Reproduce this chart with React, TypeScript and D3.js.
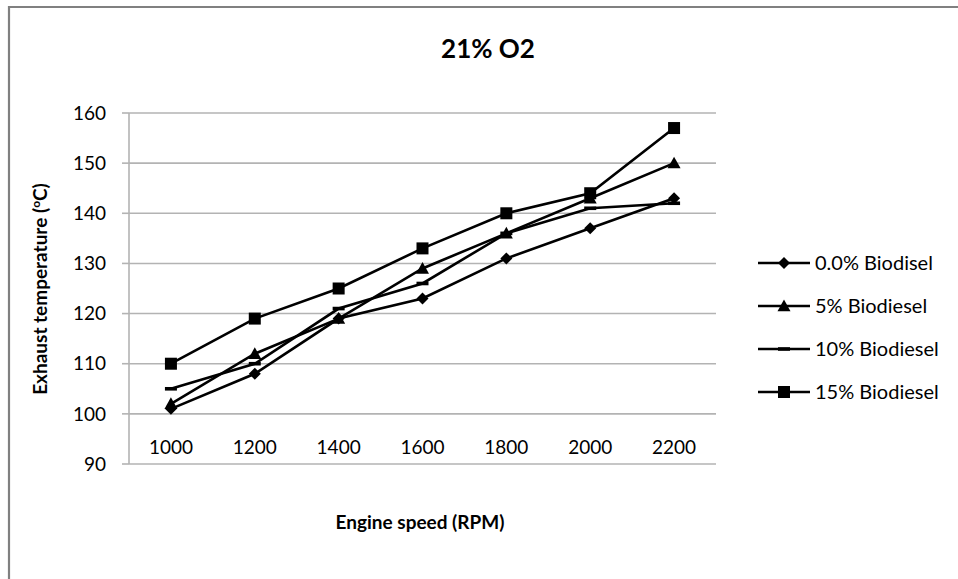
import React from "react";
import * as d3 from "d3";

const rpm = ["1000", "1200", "1400", "1600", "1800", "2000", "2200"];
const yTicks = [90, 100, 110, 120, 130, 140, 150, 160];
const s0 = [101, 108, 119, 123, 131, 137, 143];
const s5 = [102, 112, 119, 129, 136, 143, 150];
const s10 = [105, 110, 121, 126, 136, 141, 142];
const s15 = [110, 119, 125, 133, 140, 144, 157];
const seriesNames = ["0.0% Biodisel", "5% Biodiesel", "10% Biodiesel", "15% Biodiesel"];
const seriesMarkers = ["diamond", "triangle", "dash", "square"];
const seriesValues = [s0, s5, s10, s15];

const W = 958;
const H = 579;
const left = 129;
const right = 716;
const top = 113;
const bottom = 464;
const FONT = "Lato, 'Open Sans', sans-serif";

function Marker({ kind, x, y }: { kind: string; x: number; y: number }) {
  if (kind === "diamond") {
    const r = 6;
    return <path d={`M${x},${y - r}L${x + r},${y}L${x},${y + r}L${x - r},${y}Z`} fill="#000" />;
  }
  if (kind === "triangle") {
    const r = 6.5;
    return <path d={`M${x},${y - r}L${x + r},${y + r * 0.8}L${x - r},${y + r * 0.8}Z`} fill="#000" />;
  }
  if (kind === "square") {
    const r = 6;
    return <rect x={x - r} y={y - r} width={2 * r} height={2 * r} fill="#000" />;
  }
  return <rect x={x - 6} y={y - 1.8} width={12} height={3.6} fill="#000" />;
}

export default function App() {
  const x = d3.scaleBand<string>().domain(rpm).range([left, right]);
  const y = d3.scaleLinear().domain([90, 160]).range([bottom, top]);
  const cx = (c: string) => (x(c) as number) + x.bandwidth() / 2;
  const line = d3
    .line<number>()
    .x((_, i) => cx(rpm[i]))
    .y((v) => y(v));

  const legendY = [263, 306, 349, 392];

  return (
    <svg
      width={W}
      height={H}
      style={{ position: "absolute", left: 0, top: 0, background: "#fff" }}
      fontFamily={FONT}
    >
      <rect width={W} height={H} fill="#fff" />
      <path d={`M9,${H}V7H${W}`} fill="none" stroke="#808080" strokeWidth={2.2} />

      <text x={488} y={58} textAnchor="middle" fontSize={26} fontWeight="bold" fill="#000">
        21% O2
      </text>

      {yTicks.map((t) => (
        <g key={t}>
          <line x1={left} x2={right} y1={y(t)} y2={y(t)} stroke="#b3b3b3" strokeWidth={1.6} />
          <line x1={122} x2={left} y1={y(t)} y2={y(t)} stroke="#b3b3b3" strokeWidth={1.6} />
          <text x={106} y={y(t)} dy="0.35em" textAnchor="end" fontSize={19} fill="#000">
            {t}
          </text>
        </g>
      ))}
      <line x1={left} x2={left} y1={top} y2={bottom} stroke="#b3b3b3" strokeWidth={1.6} />

      {rpm.map((c) => (
        <text key={c} x={cx(c)} y={447} dy="0.35em" textAnchor="middle" fontSize={19} fill="#000">
          {c}
        </text>
      ))}

      <text x={420} y={522} dy="0.35em" textAnchor="middle" fontSize={19} fontWeight="bold" fill="#000">
        Engine speed (RPM)
      </text>
      <text
        transform={`translate(40,${289}) rotate(-90)`}
        textAnchor="middle"
        dy="0.35em"
        fontSize={19}
        fontWeight="bold"
        fill="#000"
      >
        Exhaust temperature (
        <tspan fontSize={12} dy="-7">o</tspan>
        <tspan dy="7">C)</tspan>
      </text>

      {seriesValues.map((vals, si) => (
        <g key={si}>
          <path d={line(vals) as string} fill="none" stroke="#000" strokeWidth={2.6} />
          {vals.map((v, i) => (
            <Marker key={i} kind={seriesMarkers[si]} x={cx(rpm[i])} y={y(v)} />
          ))}
        </g>
      ))}

      {seriesNames.map((n, i) => (
        <g key={n}>
          <line x1={758} x2={810} y1={legendY[i]} y2={legendY[i]} stroke="#000" strokeWidth={2.6} />
          <Marker kind={seriesMarkers[i]} x={784} y={legendY[i]} />
          <text x={815} y={legendY[i]} dy="0.35em" fontSize={20} fill="#000">
            {n}
          </text>
        </g>
      ))}
    </svg>
  );
}
